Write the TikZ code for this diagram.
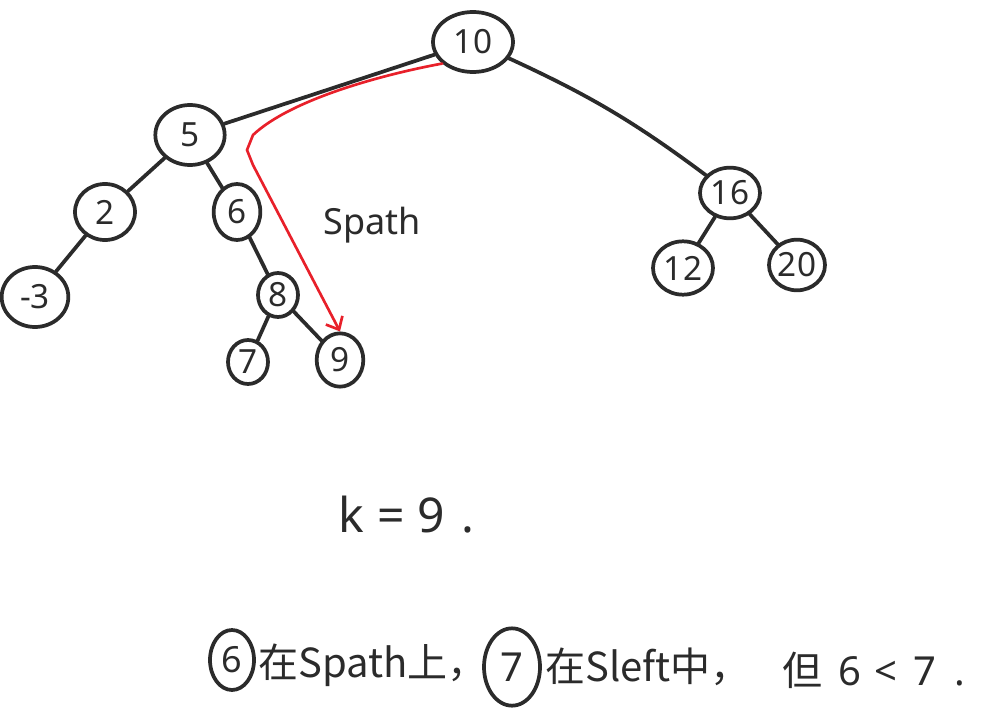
\documentclass[tikz,border=0pt]{standalone}
\usepackage{fontspec}
\setmainfont{Noto Sans}
\newfontfamily\cjk{Noto Sans CJK SC}
\usetikzlibrary{shapes.geometric,arrows.meta}
\definecolor{ink}{HTML}{2B2B2B}
\definecolor{pathred}{HTML}{E8202A}
\begin{document}
\begin{tikzpicture}[x=0.75pt,y=-0.75pt,
  tnode/.style={ellipse, draw=ink, line width=2.8pt, inner sep=0pt, text=ink,
    font=\fontsize{25}{25}\selectfont},
  edge/.style={draw=ink, line width=2.8pt, line cap=round},
  redpath/.style={draw=pathred, line width=2pt, line cap=round,
    -{Straight Barb[length=8pt,width=14pt,line width=2pt]}},
  lbl/.style={text=ink, inner sep=0pt}
]
\useasboundingbox (0,0) rectangle (990,724);
% nodes
\node[tnode, minimum width=60pt, minimum height=45pt] (n10) at (473,42) {10};
\node[tnode, minimum width=52pt, minimum height=45pt] (n5) at (190,135) {5};
\node[tnode, minimum width=45pt, minimum height=42pt] (n2) at (105,212) {2};
\node[tnode, minimum width=35pt, minimum height=42pt] (n6) at (237,212) {6};
\node[tnode, minimum width=50pt, minimum height=45pt] (nm3) at (35,297) {-3};
\node[tnode, minimum width=30pt, minimum height=33pt] (n8) at (278,295) {8};
\node[tnode, minimum width=30pt, minimum height=33pt] (n7) at (248,362) {7};
\node[tnode, minimum width=35pt, minimum height=40pt] (n9) at (340,360) {9};
\node[tnode, minimum width=45pt, minimum height=38pt] (n16) at (730,193) {16};
\node[tnode, minimum width=45pt, minimum height=40pt] (n12) at (683,268) {12};
\node[tnode, minimum width=42pt, minimum height=38pt] (n20) at (797,265) {20};
% edges
\draw[edge] (n10) -- (n5);
\draw[edge] (n10) to[bend left=6] (n16);
\draw[edge] (n5) -- (n2);
\draw[edge] (n5) -- (n6);
\draw[edge] (n2) -- (nm3);
\draw[edge] (n6) -- (n8);
\draw[edge] (n8) -- (n7);
\draw[edge] (n8) -- (n9);
\draw[edge] (n16) -- (n12);
\draw[edge] (n16) -- (n20);
% red search path
\coordinate (bend) at (247,150);
\draw[redpath] (n10.215) .. controls (380,75) and (290,100) .. (253,135) -- (bend) -- (253,165) -- (n9.north);
% labels
\node[lbl, font=\fontsize{27}{27}\selectfont] (spath) at (372,225) {Spath};
\node[lbl, font=\fontsize{36}{36}\selectfont, anchor=west] (keq) at (338,515) {k\hspace{10pt}=\hspace{10pt}9\hspace{12pt}.};
% bottom sentence
\node[tnode, minimum width=33pt, minimum height=45pt, font=\fontsize{27}{27}\selectfont] (c6) at (232,660) {6};
\node[lbl, anchor=west, font=\fontsize{30}{30}\selectfont\cjk] (t1) at (258,665) {在Spath上，};
\node[tnode, minimum width=42pt, minimum height=58pt, font=\fontsize{30}{30}\selectfont] (c7) at (512,667) {7};
\node[lbl, anchor=west, font=\fontsize{30}{30}\selectfont\cjk] (t2) at (545,667) {在Sleft中，};
\node[lbl, anchor=west, font=\fontsize{30}{30}\selectfont] (t3) at (782,670) {{\cjk 但}\hspace{12pt}6\hspace{10pt}<\hspace{12pt}7\hspace{14pt}.};
\end{tikzpicture}
\end{document}
